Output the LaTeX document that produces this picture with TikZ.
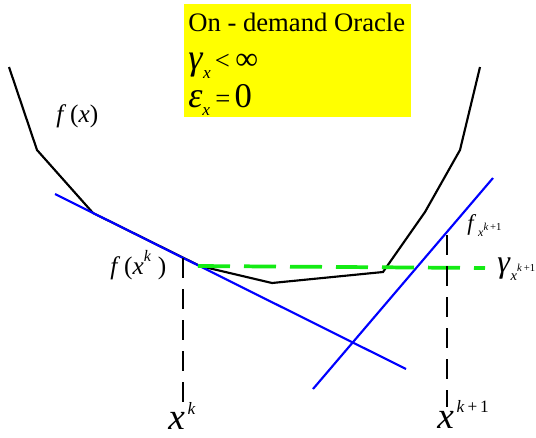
\documentclass[tikz,border=0pt]{standalone}
\usepackage{fontspec}
\setmainfont{Liberation Serif}
\definecolor{oyellow}{RGB}{255,255,0}
\definecolor{ogreen}{RGB}{20,235,20}
\definecolor{oblue}{RGB}{0,0,255}
\newcommand{\fsz}[1]{\fontsize{#1}{#1}\selectfont}
\begin{document}
\begin{tikzpicture}[x=0.75pt,y=-0.75pt,
  curve/.style={line width=1.6pt,line join=miter},
  tangent/.style={oblue,line width=1.6pt},
  level/.style={ogreen,line width=2.8pt,dash pattern=on 24pt off 10.5pt},
  drop/.style={line width=1.6pt,dash pattern=on 15pt off 8.25pt},
  lbl/.style={inner sep=0pt,anchor=base west,font=\fsz{19}},
  boxtext/.style={inner sep=0pt,anchor=base west,font=\fsz{20}}]
\useasboundingbox (0,0) rectangle (536,437);
% oracle box
\node[fill=oyellow,inner sep=0pt,anchor=north west,minimum width=170.25pt,minimum height=84.75pt] (oracle) at (184,4) {};
\node[boxtext] (t1) at (188,31) {On - demand Oracle};
\node[boxtext] (t2) at (188,69) {{\fsz{27}\textit{γ}}\raisebox{-0.35em}{\fsz{13}\textit{x}}\hspace{3pt}<\hspace{4pt}{\fsz{24}∞}};
\node[boxtext] (t3) at (188,107) {{\fsz{27}\textit{ε}}\raisebox{-0.3em}{\fsz{13}\textit{x}}\hspace{4pt}=\hspace{3pt}{\fsz{26}0}};
% function curve
\coordinate (c1) at (9,67);
\coordinate (c2) at (37,150);
\coordinate (c3) at (93,213);
\coordinate (c4) at (200,266);
\coordinate (c5) at (272,283);
\coordinate (c6) at (383,272);
\coordinate (c7) at (425,212);
\coordinate (c8) at (460,150);
\coordinate (c9) at (480,67);
\draw[curve] (c1) -- (c2) -- (c3) -- (c4) -- (c5) -- (c6) -- (c7) -- (c8) -- (c9);
% tangent lines
\coordinate (a1) at (55,194);
\coordinate (a2) at (406,369);
\coordinate (b1) at (313,389);
\coordinate (b2) at (493,178);
\draw[tangent] (a1) -- (a2);
\draw[tangent] (b1) -- (b2);
% level line
\coordinate (g1) at (198,266);
\coordinate (g2) at (485,268);
\draw[level] (g1) -- (g2);
% drop lines
\coordinate (d1) at (183,258);
\coordinate (d2) at (183,405);
\coordinate (e1) at (447,235);
\coordinate (e2) at (447,407);
\draw[drop] (d1) -- (d2);
\draw[drop] (e1) -- (e2);
% labels
\node[lbl] (fx) at (56,122) {\textit{f}\hspace{3pt}(\textit{x})};
\node[lbl] (fxk) at (110,274) {\textit{f}\hspace{3pt}(\textit{x}\raisebox{0.5em}{\fsz{12}\textit{k}}\hspace{5pt})};
\node[lbl,font=\fsz{28}] (xk) at (168,429) {\textit{x}\raisebox{0.4em}{\fsz{13}\,\textit{k}}};
\node[lbl,font=\fsz{28}] (xk1) at (437,428) {\textit{x}\raisebox{0.42em}{\fsz{13}\,\textit{k}\,+\,1}};
\node[lbl,font=\fsz{17}] (fk1) at (467,230) {\textit{f}\raisebox{-0.3em}{\fsz{9}\,\textit{x}\raisebox{0.5em}{\fsz{8}\textit{k}\,+1}}};
\node[lbl,font=\fsz{24}] (gk1) at (497,272) {\textit{γ}\raisebox{-0.25em}{\fsz{11}\textit{x}\raisebox{0.6em}{\fsz{8}\textit{k}\,+1}}};
\end{tikzpicture}
\end{document}
